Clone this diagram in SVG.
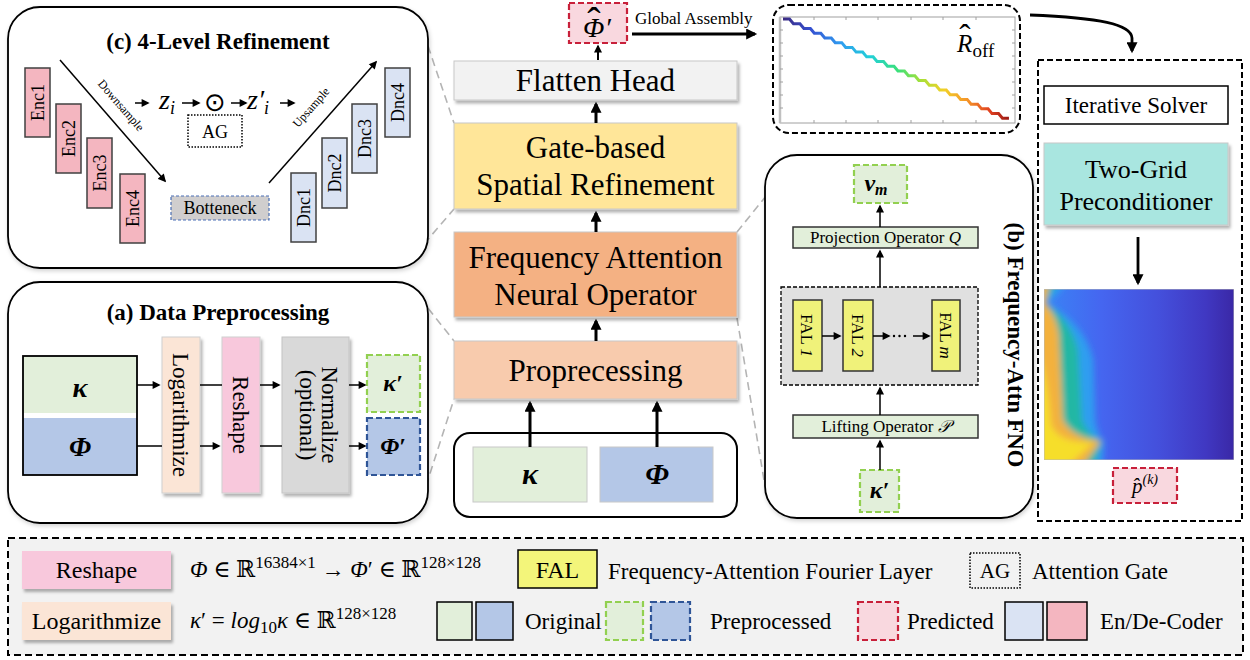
<svg xmlns="http://www.w3.org/2000/svg" width="1250" height="660" viewBox="0 0 1250 660">
  <defs>
    <style>
      .t { font-family: "Liberation Serif", "Times New Roman", "DejaVu Serif", serif; fill: #000; }
      .b { font-weight: bold; }
      .i { font-style: italic; }
      .ln { stroke: #000; fill: none; }
      .gd { stroke: #b4b4b4; stroke-width: 1.6; stroke-dasharray: 8 5; fill: none; }
      .pan { fill: #fff; stroke: #000; stroke-width: 1.8; }
      .enc { fill: #f4b6c0; stroke: #404040; stroke-width: 1.5; }
      .dnc { fill: #dae3f3; stroke: #404040; stroke-width: 1.5; }
      .gr { fill: #e2efda; }
      .bl { fill: #b4c7e7; }
      .dg { fill: #e2efda; stroke: #92d050; stroke-width: 2.2; stroke-dasharray: 6 3; }
      .db { fill: #b4c7e7; stroke: #2f5597; stroke-width: 2.2; stroke-dasharray: 6 3; }
      .dr { fill: #f9d8df; stroke: #c8203a; stroke-width: 2.2; stroke-dasharray: 6 3; }
      .fal { fill: #f0f27a; stroke: #333; stroke-width: 1.5; }
      .op { fill: #e2efda; stroke: #333; stroke-width: 1.5; }
      .cb { stroke: #c8c8c8; stroke-width: 1; filter: url(#sh); }
    </style>
    <filter id="sh" x="-10%" y="-20%" width="130%" height="150%">
      <feDropShadow dx="2" dy="3" stdDeviation="1.5" flood-color="#000" flood-opacity="0.3"/>
    </filter>
    <filter id="psh" x="-5%" y="-5%" width="110%" height="115%">
      <feDropShadow dx="1" dy="2" stdDeviation="2" flood-color="#000" flood-opacity="0.18"/>
    </filter>
    <filter id="soft" x="-10%" y="-10%" width="120%" height="120%">
      <feGaussianBlur stdDeviation="3"/>
    </filter>
    <marker id="aS" viewBox="0 0 10 10" refX="8" refY="5" markerWidth="9" markerHeight="8" markerUnits="userSpaceOnUse" orient="auto">
      <path d="M0,0 L10,5 L0,10 z" fill="#000"/>
    </marker>
    <marker id="aL" viewBox="0 0 10 10" refX="8" refY="5" markerWidth="13" markerHeight="11" markerUnits="userSpaceOnUse" orient="auto">
      <path d="M0,0 L10,5 L0,10 z" fill="#000"/>
    </marker>
    <linearGradient id="rain" gradientUnits="userSpaceOnUse" x1="783" y1="0" x2="1013" y2="0">
      <stop offset="0" stop-color="#3b2a80"/>
      <stop offset="0.12" stop-color="#3550d0"/>
      <stop offset="0.25" stop-color="#2f9cf0"/>
      <stop offset="0.38" stop-color="#22d0d8"/>
      <stop offset="0.5" stop-color="#3be07a"/>
      <stop offset="0.6" stop-color="#a8e038"/>
      <stop offset="0.7" stop-color="#f2d028"/>
      <stop offset="0.8" stop-color="#f5962a"/>
      <stop offset="0.9" stop-color="#e04020"/>
      <stop offset="1" stop-color="#8a1010"/>
    </linearGradient>
    <linearGradient id="heatBase" x1="0" y1="0" x2="1" y2="0">
      <stop offset="0" stop-color="#3a84f5"/>
      <stop offset="0.3" stop-color="#4566f0"/>
      <stop offset="0.6" stop-color="#4450dc"/>
      <stop offset="0.85" stop-color="#4038c2"/>
      <stop offset="1" stop-color="#3a28a6"/>
    </linearGradient>
    <clipPath id="heatClip">
      <rect x="1044" y="289" width="190" height="171"/>
    </clipPath>
  </defs>

  <rect width="1250" height="660" fill="#fff"/>

  <!-- dashed grey lines tying the panels to the main pipeline -->
  <g id="zoom-lines">
    <path class="gd" d="M428,46 L454,123"/>
    <path class="gd" d="M424,244 L454,209"/>
    <path class="gd" d="M420,298 L454,341"/>
    <path class="gd" d="M426,486 L454,399"/>
    <path class="gd" d="M737,232 L766,196"/>
    <path class="gd" d="M737,318 L764,480"/>
  </g>

  <!-- (c) 4-level refinement panel -->
  <g id="panel-c">
    <rect class="pan" x="8" y="7" width="420" height="261" rx="32" filter="url(#psh)"/>
    <text class="t b" x="218" y="49" font-size="23" text-anchor="middle">(c) 4-Level Refinement</text>
    <g id="enc1"><rect class="enc" x="25" y="68" width="25" height="69"/><text class="t" font-size="18" text-anchor="middle" transform="translate(43.5,102.5) rotate(-90)">Enc1</text></g>
    <g id="enc2"><rect class="enc" x="56" y="104" width="25" height="69"/><text class="t" font-size="18" text-anchor="middle" transform="translate(74.5,138.5) rotate(-90)">Enc2</text></g>
    <g id="enc3"><rect class="enc" x="87" y="138" width="25" height="70"/><text class="t" font-size="18" text-anchor="middle" transform="translate(105.5,173) rotate(-90)">Enc3</text></g>
    <g id="enc4"><rect class="enc" x="120" y="174" width="25" height="69"/><text class="t" font-size="18" text-anchor="middle" transform="translate(138.5,208.5) rotate(-90)">Enc4</text></g>
    <g id="bottleneck">
      <rect x="171" y="196" width="98" height="24" fill="#d0cece" stroke="#4a6fb5" stroke-width="1.2" stroke-dasharray="3 2"/>
      <text class="t" x="220" y="214" font-size="18" text-anchor="middle">Botteneck</text>
    </g>
    <g id="dnc1"><rect class="dnc" x="291" y="173" width="25" height="69"/><text class="t" font-size="18" text-anchor="middle" transform="translate(309.5,207.5) rotate(-90)">Dnc1</text></g>
    <g id="dnc2"><rect class="dnc" x="322" y="138" width="25" height="70"/><text class="t" font-size="18" text-anchor="middle" transform="translate(340.5,173) rotate(-90)">Dnc2</text></g>
    <g id="dnc3"><rect class="dnc" x="352" y="104" width="25" height="69"/><text class="t" font-size="18" text-anchor="middle" transform="translate(370.5,138.5) rotate(-90)">Dnc3</text></g>
    <g id="dnc4"><rect class="dnc" x="385" y="68" width="25" height="69"/><text class="t" font-size="18" text-anchor="middle" transform="translate(403.5,102.5) rotate(-90)">Dnc4</text></g>
    <g id="attention-gate">
      <text class="t i" x="159" y="109" font-size="28">z<tspan font-size="18" dy="5">i</tspan></text>
      <text x="215" y="111" font-family="DejaVu Sans, sans-serif" font-size="26" text-anchor="middle">⊙</text>
      <text class="t i" x="247" y="109" font-size="28">z′<tspan font-size="18" dy="5">i</tspan></text>
      <rect x="188" y="115" width="54" height="32" fill="#fff" stroke="#000" stroke-width="1.5" stroke-dasharray="1.5 1.5"/>
      <text class="t" x="215" y="138" font-size="18" text-anchor="middle">AG</text>
    </g>
    <text class="t" font-size="12" text-anchor="middle" transform="translate(118,108) rotate(49)">Downsample</text>
    <text class="t" font-size="12" text-anchor="middle" transform="translate(314,110) rotate(-48.5)">Upsample</text>
  </g>

  <!-- (a) data preprocessing panel -->
  <g id="panel-a">
    <rect class="pan" x="8" y="282" width="420" height="241" rx="32" filter="url(#psh)"/>
    <text class="t b" x="218" y="320" font-size="23" text-anchor="middle">(a) Data Preprocessing</text>
    <g id="raw-input">
      <rect class="gr" x="23" y="356" width="114" height="57"/>
      <rect x="23" y="413" width="114" height="5" fill="#fff"/>
      <rect class="bl" x="23" y="418" width="114" height="57"/>
      <rect x="23" y="356" width="114" height="119" fill="none" stroke="#000" stroke-width="1.8"/>
      <text class="t b i" x="80" y="397" font-size="28" text-anchor="middle">κ</text>
      <text class="t b i" x="80" y="456" font-size="28" text-anchor="middle">Φ</text>
    </g>
    <g id="logarithmize">
      <rect x="162" y="337" width="38" height="156" fill="#fbe5d6" stroke="#d0d0d0" stroke-width="1" filter="url(#sh)"/>
      <text class="t" font-size="23" text-anchor="middle" transform="translate(173,415) rotate(90)">Logarithmize</text>
    </g>
    <g id="reshape">
      <rect x="222" y="337" width="38" height="156" fill="#f8c8dc" stroke="#d0d0d0" stroke-width="1" filter="url(#sh)"/>
      <text class="t" font-size="23" text-anchor="middle" transform="translate(233,415) rotate(90)">Reshape</text>
    </g>
    <g id="normalize">
      <rect x="282" y="337" width="67" height="156" fill="#d9d9d9" stroke="#c4c4c4" stroke-width="1" filter="url(#sh)"/>
      <text class="t" font-size="23" text-anchor="middle" transform="translate(322,415) rotate(90)">Normalize</text>
      <text class="t" font-size="23" text-anchor="middle" transform="translate(300,415) rotate(90)">(optional)</text>
    </g>
    <g id="kappa-prime-a">
      <rect class="dg" x="367" y="355" width="53" height="57"/>
      <text class="t b i" x="393" y="391" font-size="24" text-anchor="middle">κ′</text>
    </g>
    <g id="phi-prime-a">
      <rect class="db" x="367" y="418" width="53" height="57"/>
      <text class="t b i" x="393" y="454" font-size="24" text-anchor="middle">Φ′</text>
    </g>
  </g>

  <!-- main pipeline -->
  <g id="phi-hat">
    <rect class="dr" x="569" y="3" width="58" height="40"/>
    <text class="t i" x="583" y="37" font-size="28">Φ<tspan font-style="normal" font-size="40" dx="-17" dy="-2">ˆ</tspan><tspan dx="4" dy="2">′</tspan></text>
  </g>
  <text class="t" x="635" y="24" font-size="17">Global Assembly</text>
  <g id="flatten-head">
    <rect class="cb" x="454" y="61" width="283" height="39" fill="#f2f2f2"/>
    <text class="t" x="595.5" y="91" font-size="31" text-anchor="middle">Flatten Head</text>
  </g>
  <g id="gate-refinement">
    <rect class="cb" x="454" y="123" width="283" height="86" fill="#ffe699"/>
    <text class="t" x="595.5" y="158" font-size="31" text-anchor="middle">Gate-based</text>
    <text class="t" x="595.5" y="195" font-size="31" text-anchor="middle">Spatial Refinement</text>
  </g>
  <g id="fano">
    <rect class="cb" x="454" y="232" width="283" height="85" fill="#f4b183"/>
    <text class="t" x="595.5" y="268" font-size="31" text-anchor="middle">Frequency Attention</text>
    <text class="t" x="595.5" y="305" font-size="31" text-anchor="middle">Neural Operator</text>
  </g>
  <g id="preprocessing">
    <rect class="cb" x="454" y="341" width="283" height="58" fill="#f8cbad"/>
    <text class="t" x="595.5" y="381" font-size="31" text-anchor="middle">Proprecessing</text>
  </g>
  <g id="inputs">
    <rect x="454" y="433" width="283" height="84" rx="16" fill="#fff" stroke="#000" stroke-width="2"/>
    <rect class="gr" x="473" y="447" width="114" height="55" stroke="#c8c8c8" stroke-width="1"/>
    <rect class="bl" x="600" y="447" width="113" height="55" stroke="#c8c8c8" stroke-width="1"/>
    <text class="t b i" x="530" y="484" font-size="30" text-anchor="middle">κ</text>
    <text class="t b i" x="657" y="484" font-size="30" text-anchor="middle">Φ</text>
  </g>

  <!-- assembled operator plot -->
  <g id="r-off">
    <rect x="773" y="5" width="247" height="128" rx="16" fill="#fff" stroke="#000" stroke-width="2" stroke-dasharray="6 3"/>
    <rect x="780" y="17" width="235" height="106" fill="#fff" stroke="#a0a0a0" stroke-width="1"/>
    <line x1="780" y1="17" x2="780" y2="123" stroke="#c0c0c0" stroke-width="2.5"/>
    <path d="M780,30h3M780,43h3M780,56h3M780,69h3M780,82h3M780,95h3M780,108h3M1015,30h-3M1015,43h-3M1015,56h-3M1015,69h-3M1015,82h-3M1015,95h-3M1015,108h-3M814,123v-3M846,123v-3M878,123v-3M911,123v-3M943,123v-3M976,123v-3M814,17v3M846,17v3M878,17v3M911,17v3M943,17v3M976,17v3" stroke="#a0a0a0" stroke-width="1" fill="none"/>
    <path d="M783,19 h6.5 l3.95,4.73 h6.5 l3.95,4.73 h6.5 l3.95,4.73 h6.5 l3.95,4.73 h6.5 l3.95,4.73 h6.5 l3.95,4.73 h6.5 l3.95,4.73 h6.5 l3.95,4.73 h6.5 l3.95,4.73 h6.5 l3.95,4.73 h6.5 l3.95,4.73 h6.5 l3.95,4.73 h6.5 l3.95,4.73 h6.5 l3.95,4.73 h6.5 l3.95,4.73 h6.5 l3.95,4.73 h6.5 l3.95,4.73 h6.5 l3.95,4.73 h6.5 l3.95,4.73 h6.5 l3.95,4.73 h6.5 l3.95,4.73 h6.5" fill="none" stroke="url(#rain)" stroke-width="3"/>
    <text class="t i" x="957" y="52" font-size="25">R<tspan font-style="normal" font-size="34" dx="-13" dy="-4">ˆ</tspan><tspan font-style="normal" font-size="19" dx="2" dy="9">off</tspan></text>
  </g>

  <!-- (b) frequency-attention FNO panel -->
  <g id="panel-b">
    <rect class="pan" x="765" y="155" width="268" height="363" rx="32" filter="url(#psh)"/>
    <text class="t b" font-size="23" text-anchor="middle" transform="translate(1008,345) rotate(90)">(b) Frequency-Attn FNO</text>
    <g id="v-m">
      <rect class="dg" x="854" y="165" width="53" height="38"/>
      <text class="t b i" x="876" y="191" font-size="24" text-anchor="middle">v<tspan font-size="16" dy="4">m</tspan></text>
    </g>
    <g id="projection">
      <rect class="op" x="793" y="227" width="185" height="21"/>
      <text class="t" x="885.5" y="243" font-size="17" text-anchor="middle">Projection Operator <tspan font-style="italic">Q</tspan></text>
    </g>
    <g id="fal-stack">
      <rect x="781" y="287" width="197" height="98" fill="#e0e0e0" stroke="#000" stroke-width="1.3" stroke-dasharray="4 2"/>
      <rect class="fal" x="793" y="300" width="29" height="71"/>
      <text class="t" font-size="17" text-anchor="middle" transform="translate(801,335.5) rotate(90)">FAL <tspan font-style="italic">1</tspan></text>
      <rect class="fal" x="843" y="300" width="30" height="71"/>
      <text class="t" font-size="17" text-anchor="middle" transform="translate(852,335.5) rotate(90)">FAL <tspan font-style="italic">2</tspan></text>
      <rect class="fal" x="932" y="300" width="28" height="71"/>
      <text class="t" font-size="17" text-anchor="middle" transform="translate(940,335.5) rotate(90)">FAL <tspan font-style="italic">m</tspan></text>
    </g>
    <g id="lifting">
      <rect class="op" x="793" y="415" width="185" height="23"/>
      <text class="t" x="885.5" y="432" font-size="17" text-anchor="middle">Lifting Operator <tspan font-style="italic">𝒫</tspan></text>
    </g>
    <g id="kappa-prime-b">
      <rect class="dg" x="860" y="470" width="39" height="42"/>
      <text class="t b i" x="879.5" y="498" font-size="24" text-anchor="middle">κ′</text>
    </g>
  </g>

  <!-- iterative solver with two-grid preconditioner -->
  <g id="solver">
    <rect x="1038" y="60" width="204" height="461" fill="#fff" stroke="#000" stroke-width="2" stroke-dasharray="6 3"/>
    <g id="iterative-solver">
      <rect x="1044" y="86" width="184" height="38" fill="#fff" stroke="#000" stroke-width="1.5"/>
      <text class="t" x="1136" y="113" font-size="23" text-anchor="middle">Iterative Solver</text>
    </g>
    <g id="two-grid">
      <rect class="cb" x="1044" y="143" width="184" height="82" fill="#a9e6e0"/>
      <text class="t" x="1136" y="178" font-size="26" text-anchor="middle">Two-Grid</text>
      <text class="t" x="1136" y="210" font-size="26" text-anchor="middle">Preconditioner</text>
    </g>
    <g id="pressure-map" clip-path="url(#heatClip)">
      <rect x="1044" y="289" width="190" height="171" fill="url(#heatBase)"/>
      <g filter="url(#soft)">
        <path d="M1030,280 L1068,280 Q1058,296 1046,303 C1070,315 1088,335 1093,360 L1095,420 C1097,432 1100,438 1104,441 L1102,470 L1030,470 Z" fill="#2e9ef0"/>
        <path d="M1030,280 L1057,280 Q1050,296 1045,303 C1060,313 1074,330 1078,350 L1082,420 C1087,433 1096,439 1102,441 L1092,470 L1030,470 Z" fill="#20b7a4"/>
        <path d="M1030,280 L1050,280 Q1047,296 1045,303 C1052,312 1057,320 1059,335 L1063,420 C1072,436 1090,440 1101,441 L1080,470 L1030,470 Z" fill="#f3b13e"/>
        <path d="M1030,335 C1046,360 1049,400 1051,425 C1058,440 1075,443 1094,442 L1064,470 L1030,470 Z" fill="#f6de2a"/>
      </g>
      <rect x="1044" y="289" width="190" height="171" fill="none" stroke="#b8b8b8" stroke-width="1"/>
    </g>
    <g id="p-hat">
      <rect class="dr" x="1113" y="468" width="64" height="35"/>
      <text class="t i" x="1145" y="493" font-size="21" text-anchor="middle">p̂<tspan font-size="14" dy="-9">(k)</tspan></text>
    </g>
  </g>

  <!-- connectors -->
  <g id="connectors">
    <!-- main pipeline -->
    <line class="ln" x1="530" y1="447" x2="530" y2="403" stroke-width="3" marker-end="url(#aL)"/>
    <line class="ln" x1="657" y1="447" x2="657" y2="403" stroke-width="3" marker-end="url(#aL)"/>
    <line class="ln" x1="596" y1="341" x2="596" y2="321" stroke-width="3" marker-end="url(#aL)"/>
    <line class="ln" x1="596" y1="232" x2="596" y2="213" stroke-width="3" marker-end="url(#aL)"/>
    <line class="ln" x1="596" y1="123" x2="596" y2="104" stroke-width="3" marker-end="url(#aL)"/>
    <line class="ln" x1="598" y1="60" x2="598" y2="46" stroke-width="2" marker-end="url(#aS)"/>
    <line class="ln" x1="632" y1="34" x2="755" y2="34" stroke-width="2.8" marker-end="url(#aL)"/>
    <path class="ln" d="M1030,15 C1100,18 1131,24 1132,38 L1132,51" stroke-width="2.8" marker-end="url(#aL)"/>
    <line class="ln" x1="1138" y1="237" x2="1138" y2="283" stroke-width="2.8" marker-end="url(#aL)"/>
    <!-- panel a flow -->
    <line class="ln" x1="137" y1="385" x2="159" y2="385" stroke-width="1.5" marker-end="url(#aS)"/>
    <line class="ln" x1="200" y1="385" x2="222" y2="385" stroke-width="1.5"/>
    <line class="ln" x1="260" y1="385" x2="279" y2="385" stroke-width="1.5" marker-end="url(#aS)"/>
    <line class="ln" x1="349" y1="385" x2="365" y2="385" stroke-width="1.5" marker-end="url(#aS)"/>
    <line class="ln" x1="137" y1="446" x2="162" y2="446" stroke-width="1.5"/>
    <line class="ln" x1="200" y1="446" x2="219" y2="446" stroke-width="1.5" marker-end="url(#aS)"/>
    <line class="ln" x1="260" y1="446" x2="282" y2="446" stroke-width="1.5"/>
    <line class="ln" x1="349" y1="446" x2="365" y2="446" stroke-width="1.5" marker-end="url(#aS)"/>
    <!-- panel c flow -->
    <line class="ln" x1="60" y1="60" x2="165" y2="181" stroke-width="1.5" marker-end="url(#aS)"/>
    <line class="ln" x1="269" y1="183" x2="376" y2="62" stroke-width="1.5" marker-end="url(#aS)"/>
    <line class="ln" x1="135" y1="103" x2="148" y2="103" stroke-width="1.5" marker-end="url(#aS)"/>
    <line class="ln" x1="182" y1="103" x2="199" y2="103" stroke-width="1.5" marker-end="url(#aS)"/>
    <line class="ln" x1="231" y1="103" x2="246" y2="103" stroke-width="1.5" marker-end="url(#aS)"/>
    <line class="ln" x1="280" y1="103" x2="294" y2="103" stroke-width="1.5" marker-end="url(#aS)"/>
    <!-- panel b flow -->
    <line class="ln" x1="880" y1="470" x2="880" y2="441" stroke-width="1.5" marker-end="url(#aS)"/>
    <line class="ln" x1="880" y1="415" x2="880" y2="388" stroke-width="1.5" marker-end="url(#aS)"/>
    <line class="ln" x1="880" y1="287" x2="880" y2="251" stroke-width="1.5" marker-end="url(#aS)"/>
    <line class="ln" x1="880" y1="227" x2="880" y2="206" stroke-width="1.5" marker-end="url(#aS)"/>
    <line class="ln" x1="822" y1="336" x2="840" y2="336" stroke-width="1.5" marker-end="url(#aS)"/>
    <line class="ln" x1="873" y1="336" x2="889" y2="336" stroke-width="1.5" marker-end="url(#aS)"/>
    <line class="ln" x1="894" y1="336" x2="910" y2="336" stroke-width="2.4" stroke-linecap="round" stroke-dasharray="0 5.5"/>
    <line class="ln" x1="913" y1="336" x2="929" y2="336" stroke-width="1.5" marker-end="url(#aS)"/>
  </g>

  <!-- legend -->
  <g id="legend">
    <rect x="8" y="538" width="1235" height="117" fill="#f2f2f2" stroke="#000" stroke-width="2" stroke-dasharray="7 4"/>
    <rect x="22" y="551" width="149" height="38" fill="#f8c8dc" filter="url(#sh)"/>
    <text class="t" x="96.5" y="578" font-size="24" text-anchor="middle">Reshape</text>
    <text class="t" x="190" y="577" font-size="23"><tspan font-style="italic">Φ</tspan> ∈ ℝ<tspan font-size="17" dy="-9">16384×1</tspan><tspan dy="9"> → </tspan><tspan font-style="italic">Φ</tspan>′ ∈ ℝ<tspan font-size="17" dy="-9">128×128</tspan></text>
    <rect x="518" y="550" width="79" height="38" fill="#f3f57a" stroke="#000" stroke-width="1.5"/>
    <text class="t" x="557.5" y="578" font-size="24" text-anchor="middle">FAL</text>
    <text class="t" x="608" y="579" font-size="23">Frequency-Attention Fourier Layer</text>
    <rect x="970" y="553" width="50" height="35" fill="none" stroke="#000" stroke-width="1.5" stroke-dasharray="1.5 1.5"/>
    <text class="t" x="995" y="578" font-size="21" text-anchor="middle">AG</text>
    <text class="t" x="1032" y="579" font-size="23">Attention Gate</text>

    <rect x="22" y="602" width="149" height="38" fill="#fbe5d6" filter="url(#sh)"/>
    <text class="t" x="96.5" y="629" font-size="24" text-anchor="middle">Logarithmize</text>
    <text class="t" x="190" y="628" font-size="23"><tspan font-style="italic">κ</tspan>′ = <tspan font-style="italic">log</tspan><tspan font-size="17" dy="5">10</tspan><tspan font-style="italic" dy="-5">κ</tspan>  ∈ ℝ<tspan font-size="17" dy="-9">128×128</tspan></text>
    <rect x="437" y="602" width="35" height="38" fill="#e2efda" stroke="#000" stroke-width="1.5"/>
    <rect x="476" y="602" width="37" height="38" fill="#b4c7e7" stroke="#000" stroke-width="1.5"/>
    <text class="t" x="525" y="629" font-size="23">Original</text>
    <rect class="dg" x="606" y="602" width="37" height="38"/>
    <rect class="db" x="651" y="602" width="39" height="38"/>
    <text class="t" x="710" y="629" font-size="23">Preprocessed</text>
    <rect class="dr" x="858" y="602" width="40" height="38"/>
    <text class="t" x="907" y="629" font-size="23">Predicted</text>
    <rect x="1005" y="602" width="38" height="38" fill="#dae3f3" stroke="#000" stroke-width="1.5"/>
    <rect x="1047" y="602" width="40" height="38" fill="#f4b6c0" stroke="#000" stroke-width="1.5"/>
    <text class="t" x="1100" y="629" font-size="23">En/De-Coder</text>
  </g>
</svg>
